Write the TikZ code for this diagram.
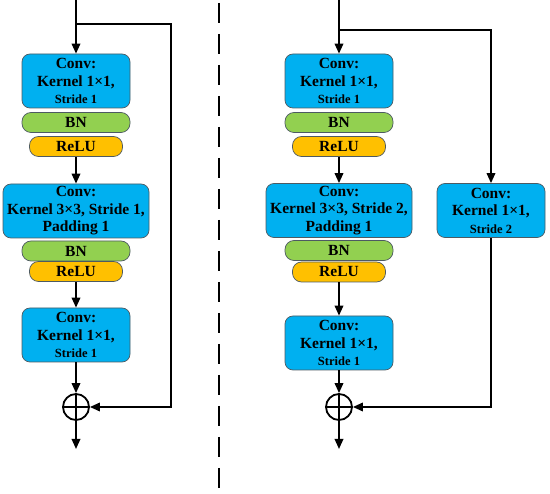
\documentclass[tikz,border=0pt]{standalone}
\usepackage{fontspec}
\setmainfont{Liberation Serif}
\usepackage{tikz}
\usetikzlibrary{arrows.meta,positioning}
\definecolor{convblue}{HTML}{00B0F0}
\definecolor{bngreen}{HTML}{92D050}
\definecolor{reluorange}{HTML}{FFC000}
\definecolor{edgegray}{HTML}{4D5A62}
\newcommand{\smallline}[1]{{\fontsize{12.5}{14}\selectfont #1}}

\begin{document}
\begin{tikzpicture}[x=1pt, y=-1pt, >={Triangle[length=10pt,width=8.5pt]},
  font=\fontsize{15.5}{17.5}\selectfont\bfseries,
  layer/.style={draw=edgegray, line width=0.7pt, rounded corners=8pt,
                align=center, inner sep=0pt},
  conv/.style={layer, fill=convblue, minimum width=108pt, minimum height=54pt},
  convwide/.style={conv, minimum width=146pt},
  bn/.style={layer, fill=bngreen, rounded corners=9pt,
             minimum width=108pt, minimum height=20pt},
  relu/.style={layer, fill=reluorange, rounded corners=9pt,
               minimum width=93pt, minimum height=20pt},
  add/.style={circle, draw, line width=1.8pt, minimum size=26pt, inner sep=0pt,
              path picture={\draw[line width=1.8pt]
                (path picture bounding box.west) -- (path picture bounding box.east);}},
  flow/.style={->, line width=1.8pt}]
  \useasboundingbox (0,0) rectangle (550,494);

  % left block: identity shortcut
  \coordinate (in1) at (76,0);
  \coordinate (split1) at (76,24);
  \coordinate (sc1) at (171,24);
  \node[conv] (conva1) at (76,81) {Conv:\\Kernel 1×1,\\\smallline{Stride 1}};
  \node[bn] (bna1) at (76,122.5) {BN};
  \node[relu] (relua1) at (76,146.5) {ReLU};
  \node[convwide] (convb1) at (76,211) {Conv:\\Kernel 3×3, Stride 1,\\Padding 1};
  \node[bn] (bnb1) at (76,251) {BN};
  \node[relu] (relub1) at (76,271.5) {ReLU};
  \node[conv] (convc1) at (76,335) {Conv:\\Kernel 1×1,\\\smallline{Stride 1}};
  \node[add] (add1) at (76,407) {};
  \coordinate (out1) at (76,449);

  \draw[flow] (in1) -- (conva1.north);
  \draw[flow] (relua1.south) -- (convb1.north);
  \draw[flow] (relub1.south) -- (convc1.north);
  \draw[flow] (convc1.south) -- (add1.north);
  \draw[flow] (split1) -- (sc1) |- (add1.east);
  \draw[flow] (add1.north) -- (out1);

  % divider
  \coordinate (dtop) at (219,3);
  \coordinate (dbot) at (219,490);
  \draw[line width=2.8pt, dash pattern=on 20pt off 11pt] (dtop) -- (dbot);

  % right block: projection shortcut
  \coordinate (in2) at (339,0);
  \coordinate (split2) at (339,30);
  \node[conv] (conva2) at (339,81) {Conv:\\Kernel 1×1,\\\smallline{Stride 1}};
  \node[bn] (bna2) at (339,122.5) {BN};
  \node[relu] (relua2) at (339,146.5) {ReLU};
  \node[convwide] (convb2) at (339,210.5) {Conv:\\Kernel 3×3, Stride 2,\\Padding 1};
  \node[bn] (bnb2) at (339,250.5) {BN};
  \node[relu] (relub2) at (339,272) {ReLU};
  \node[conv] (convc2) at (339,343) {Conv:\\Kernel 1×1,\\\smallline{Stride 1}};
  \node[conv] (short2) at (491,210.5) {Conv:\\Kernel 1×1,\\\smallline{Stride 2}};
  \node[add] (add2) at (339,407) {};
  \coordinate (out2) at (339,449);

  \draw[flow] (in2) -- (conva2.north);
  \draw[flow] (relua2.south) -- (convb2.north);
  \draw[flow] (relub2.south) -- (convc2.north);
  \draw[flow] (convc2.south) -- (add2.north);
  \draw[flow] (split2) -| (short2.north);
  \draw[flow] (short2.south) |- (add2.east);
  \draw[flow] (add2.north) -- (out2);
\end{tikzpicture}
\end{document}
